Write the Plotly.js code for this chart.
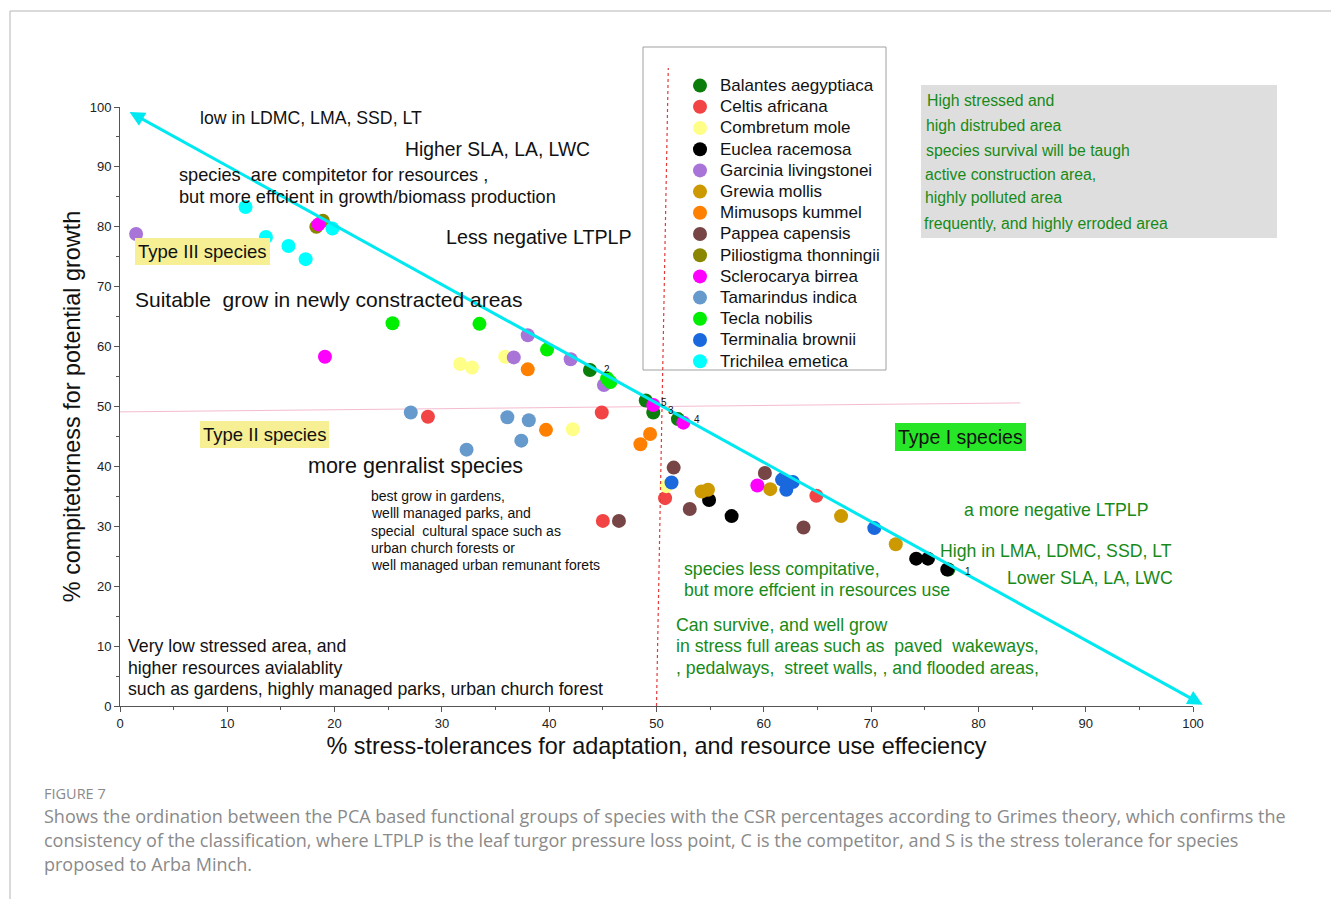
<!DOCTYPE html>
<html><head><meta charset="utf-8">
<script src="https://cdn.plot.ly/plotly-3.0.1.min.js"></script>
<style>html,body{margin:0;padding:0;background:#fff}#chart{width:1331px;height:899px}</style>
</head><body><div id="chart"></div>
<script>
// ---------------- DATA ----------------
const speciesNames = ["Balantes aegyptiaca","Celtis africana","Combretum mole","Euclea racemosa","Garcinia livingstonei","Grewia mollis","Mimusops kummel","Pappea capensis","Piliostigma thonningii","Sclerocarya birrea","Tamarindus indica","Tecla nobilis","Terminalia brownii","Trichilea emetica"];
const speciesColors = ["#0b7d0b","#f24444","#ffff88","#000000","#a974d8","#cc9a00","#ff8000","#774545","#8a8600","#ff00ff","#6699cc","#00ee00","#1a68dd","#00ffff"];
// % stress-tolerance (x) per species
const stressTol = [
  [43.8, 49.0, 49.7, 52.0, 77.2],
  [28.7, 44.9, 50.8, 45.0, 64.9],
  [31.7, 32.8, 35.9, 42.2, 50.9],
  [54.9, 57.0, 74.2, 75.3, 77.1],
  [1.5, 38.0, 36.7, 42.0, 45.1],
  [54.2, 54.8, 60.6, 67.2, 72.3],
  [38.0, 39.7, 49.4, 48.5],
  [51.6, 53.1, 60.1, 63.7, 46.5],
  [18.3, 18.9],
  [18.5, 19.1, 49.7, 52.5, 59.4],
  [27.1, 32.3, 36.1, 38.1, 37.4],
  [25.4, 33.5, 39.8, 45.4, 45.7],
  [51.4, 61.7, 62.1, 62.7, 70.3],
  [11.7, 13.6, 15.7, 17.3, 19.8]
];
// % competitorness (y) per species
const competitor = [
  [56.1, 51.0, 49.0, 47.9, 22.8],
  [48.3, 49.0, 34.7, 30.9, 35.1],
  [57.1, 56.5, 58.3, 46.2, 36.7],
  [34.4, 31.7, 24.6, 24.6, 22.8],
  [78.8, 61.9, 58.2, 57.9, 53.6],
  [35.8, 36.1, 36.2, 31.7, 27.0],
  [56.2, 46.1, 45.4, 43.7],
  [39.8, 32.9, 38.9, 29.8, 30.9],
  [80.0, 81.0],
  [80.4, 58.3, 50.25, 47.3, 36.8],
  [49.0, 42.8, 48.2, 47.7, 44.3],
  [63.9, 63.8, 59.5, 54.7, 54.1],
  [37.3, 37.8, 36.1, 37.4, 29.7],
  [83.3, 78.3, 76.8, 74.6, 79.7]
];
const pointLabels = ["2", "5", "3", "4", "1"];
const pointLabelX = [45.4, 50.7, 51.35, 53.8, 79.0];
const pointLabelY = [56.1, 50.75, 49.25, 47.75, 22.5];
const xTickVals = [0,10,20,30,40,50,60,70,80,90,100];
const yTickVals = [0,10,20,30,40,50,60,70,80,90,100];

// ---------------- LAYOUT HELPERS ----------------
const W = 1331, H = 899, L = 120, R = 1193, T = 107, B = 706;
const FONT = "Arial, 'Liberation Sans', sans-serif";
const CAPFONT = "'Open Sans', 'Noto Sans', sans-serif";
const GREEN = "#178a17";
const px = p => (p - L) / (R - L);
const py = p => (B - p) / (B - T);

function txt(x, y, text, size, color, extra) {
  return Object.assign({
    xref: 'paper', yref: 'paper', x: px(x - 2), y: py(y), xanchor: 'left', yanchor: 'middle',
    text: text, showarrow: false, font: {family: FONT, size: size, color: color || '#111'}, align: 'left'
  }, extra || {});
}

const traces = speciesNames.map((n, i) => ({
  type: 'scatter', mode: 'markers', name: '<span style="font-size:17px">' + n + '</span>',
  x: stressTol[i], y: competitor[i],
  marker: {color: speciesColors[i], size: 14, line: {width: 0}},
  cliponaxis: false
}));

const annotations = [
  // double-headed diagonal arrow
  {xref: 'x', yref: 'y', axref: 'x', ayref: 'y', x: 100.9, y: 0.2, ax: 0.75, ay: 99.3, text: '',
   showarrow: true, arrowhead: 2, startarrowhead: 2, arrowside: 'end+start', arrowsize: 1, startarrowsize: 1,
   arrowwidth: 3, arrowcolor: '#00e8f0', standoff: 0, startstandoff: 0},
  txt(200, 118, 'low in LDMC, LMA, SSD, LT', 17.7),
  txt(405, 149, 'Higher SLA, LA, LWC', 19.3),
  txt(179, 175, 'species  are compitetor for resources ,', 18.2),
  txt(179, 197, 'but more effcient in growth/biomass production', 18.2),
  txt(446, 237, 'Less negative LTPLP', 19.7),
  txt(137, 251.5, 'Type III species', 18.5, '#111', {bgcolor: '#f6ef93', borderpad: 3, borderwidth: 0}),
  txt(135, 299, 'Suitable  grow in newly constracted areas', 21),
  txt(202, 434.5, 'Type II species', 18.5, '#111', {bgcolor: '#f6ef93', borderpad: 3, borderwidth: 0}),
  txt(308, 466, 'more genralist species', 21.5),
  txt(371, 496, 'best grow in gardens,', 14),
  txt(371, 513, 'welll managed parks, and', 14),
  txt(371, 531, 'special  cultural space such as', 14),
  txt(371, 548, 'urban church forests or', 14),
  txt(371, 565, 'well managed urban remunant forets', 14),
  txt(128, 646, 'Very low stressed area, and', 17.7),
  txt(128, 668, 'higher resources avialablity', 17.7),
  txt(128, 689, 'such as gardens, highly managed parks, urban church forest', 17.7),
  txt(897, 437, 'Type I species', 19.5, '#111', {bgcolor: '#27e627', borderpad: 3, borderwidth: 0}),
  txt(964, 510, 'a more negative LTPLP', 17.7, GREEN),
  txt(940, 551, 'High in LMA, LDMC, SSD, LT', 17.7, GREEN),
  txt(1007, 578, 'Lower SLA, LA, LWC', 17.7, GREEN),
  txt(684, 569, 'species less compitative,', 17.7, GREEN),
  txt(684, 590, 'but more effcient in resources use', 17.7, GREEN),
  txt(676, 625, 'Can survive, and well grow', 17.7, GREEN),
  txt(676, 646, 'in stress full areas such as  paved  wakeways,', 17.7, GREEN),
  txt(676, 668, ', pedalways,  street walls, , and flooded areas,', 17.7, GREEN),
  txt(927, 100, 'High stressed and', 15.8, GREEN),
  txt(926, 125, 'high distrubed area', 15.8, GREEN),
  txt(926, 150, 'species survival will be taugh', 15.8, GREEN),
  txt(925, 174, 'active construction area,', 15.8, GREEN),
  txt(925, 198, 'highly polluted area', 15.8, GREEN),
  txt(924, 223, 'frequently, and highly erroded area', 15.8, GREEN),
  // caption
  {xref: 'paper', yref: 'paper', x: px(42), y: py(793), xanchor: 'left', yanchor: 'middle', showarrow: false,
   text: 'FIGURE 7', font: {family: CAPFONT, size: 14.5, color: '#8a8a8a'}},
  {xref: 'paper', yref: 'paper', x: px(42), y: py(816), xanchor: 'left', yanchor: 'middle', showarrow: false,
   text: 'Shows the ordination between the PCA based functional groups of species with the CSR percentages according to Grimes theory, which confirms the',
   font: {family: CAPFONT, size: 18, color: '#8a8a8a'}},
  {xref: 'paper', yref: 'paper', x: px(42), y: py(840), xanchor: 'left', yanchor: 'middle', showarrow: false,
   text: 'consistency of the classification, where LTPLP is the leaf turgor pressure loss point, C is the competitor, and S is the stress tolerance for species',
   font: {family: CAPFONT, size: 18, color: '#8a8a8a'}},
  {xref: 'paper', yref: 'paper', x: px(42), y: py(864), xanchor: 'left', yanchor: 'middle', showarrow: false,
   text: 'proposed to Arba Minch.', font: {family: CAPFONT, size: 18, color: '#8a8a8a'}}
];
pointLabels.forEach((t, i) => annotations.push({
  xref: 'x', yref: 'y', x: pointLabelX[i], y: pointLabelY[i], text: t, showarrow: false,
  font: {family: FONT, size: 10, color: '#111'}
}));

const shapes = [
  // figure frame
  {type: 'line', xref: 'paper', yref: 'paper', x0: px(10), x1: px(1331), y0: py(11), y1: py(11), line: {color: '#b5b5b5', width: 1}},
  {type: 'line', xref: 'paper', yref: 'paper', x0: px(10), x1: px(10), y0: py(11), y1: py(899), line: {color: '#b5b5b5', width: 1}},
  // grey note box
  {type: 'rect', xref: 'paper', yref: 'paper', x0: px(921), x1: px(1277), y0: py(238), y1: py(85), fillcolor: '#dedede', line: {width: 0}, layer: 'below'},
  // legend frame
  {type: 'rect', xref: 'paper', yref: 'paper', x0: px(643), x1: px(886), y0: py(370), y1: py(47), line: {color: '#a0a0a0', width: 1}},
  // pink horizontal guide
  {type: 'line', xref: 'x', yref: 'y', x0: 0, x1: 83.9, y0: 49.1, y1: 50.6, line: {color: 'rgba(236,120,160,0.5)', width: 1}, layer: 'below'},
  // red dotted vertical guide
  {type: 'line', xref: 'x', yref: 'paper', x0: 50, x1: 51.1, y0: 0, y1: py(68), line: {color: '#e23a3a', width: 1.2, dash: 'dot'}}
];

const axisCommon = {
  range: [0, 100], showgrid: false, zeroline: false, showline: true, linecolor: '#555', linewidth: 1,
  ticks: 'outside', ticklen: 5, tickcolor: '#555', tickwidth: 1, automargin: false,
  tickfont: {family: FONT, size: 13, color: '#222'},
  minor: {dtick: 5, ticks: 'outside', ticklen: 3, tickcolor: '#555', showgrid: false}
};

const layout = {
  width: W, height: H,
  margin: {l: L, r: W - R, t: T, b: H - B, pad: 0},
  paper_bgcolor: '#fff', plot_bgcolor: '#fff',
  font: {family: FONT},
  showlegend: true,
  legend: {x: px(680), y: py(70), xanchor: 'left', yanchor: 'top', bgcolor: 'rgba(0,0,0,0)', borderwidth: 0,
           font: {family: FONT, size: 14, color: '#111'}, traceorder: 'normal'},
  xaxis: Object.assign({}, axisCommon, {tickvals: xTickVals,
    title: {text: '% stress-tolerances for adaptation, and resource use effeciency', font: {family: FONT, size: 23.4, color: '#111'}, standoff: 8}}),
  yaxis: Object.assign({}, axisCommon, {tickvals: yTickVals,
    title: {text: '% compitetorness for potential growth', font: {family: FONT, size: 23.4, color: '#111'}, standoff: 2}}),
  annotations: annotations,
  shapes: shapes
};

Plotly.newPlot('chart', traces, layout, {displayModeBar: false, staticPlot: true});
</script></body></html>
